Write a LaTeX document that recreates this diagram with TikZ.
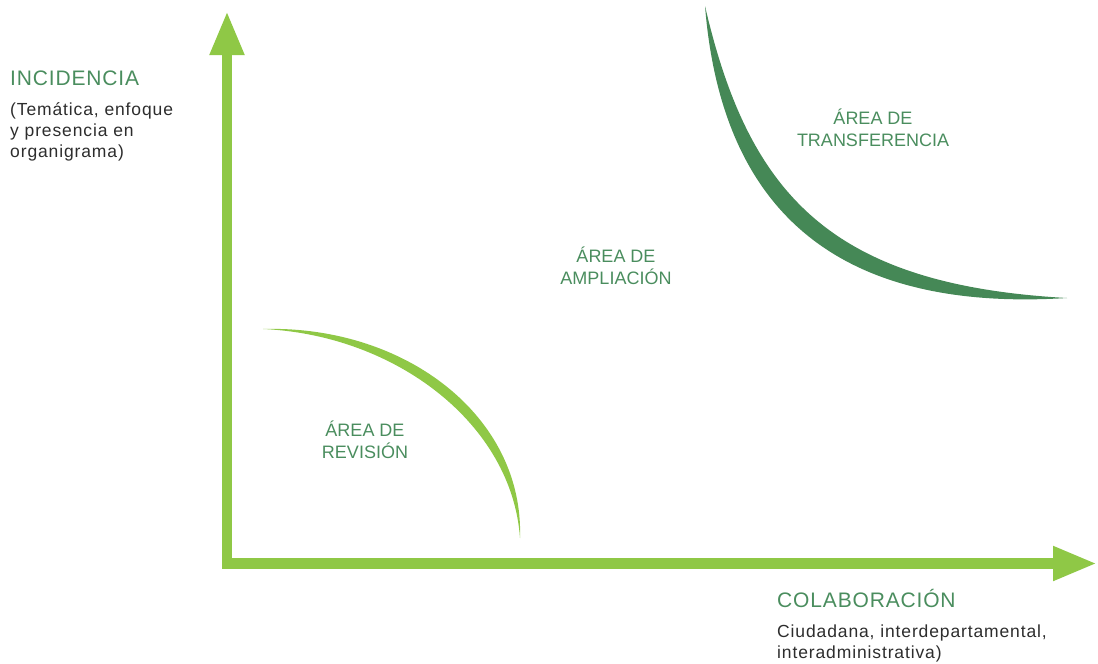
\documentclass[tikz,border=0pt]{standalone}
\usepackage{fontspec}
\setmainfont{Liberation Sans}
\usetikzlibrary{arrows.meta}
\definecolor{axisgreen}{RGB}{143,200,70}
\definecolor{deepgreen}{RGB}{69,136,86}
\definecolor{labelgreen}{RGB}{74,141,94}
\definecolor{notegray}{RGB}{45,45,45}
\begin{document}
\begin{tikzpicture}[x=1pt,y=-1pt]
        \tikzset{
        ax line/.style={draw=axisgreen,line width=10.5pt,line join=miter,{Triangle[length=44pt,width=32pt]}-{Triangle[length=44pt,width=32pt]}},
        ax title/.style={text=labelgreen,inner sep=0,anchor=base west,font=\fontsize{21}{25}\selectfont\addfontfeature{LetterSpace=4}},
        ax note/.style={text=notegray,inner sep=0,anchor=base west,align=left,font=\fontsize{17.5}{21}\selectfont\addfontfeature{LetterSpace=5}},
        area label/.style={text=labelgreen,inner sep=0,anchor=base,align=center,font=\fontsize{18}{22}\selectfont}
        }
        \useasboundingbox (0,0) rectangle (1098,664);

        \coordinate (ytip) at (227,11);
        \coordinate (origin) at (227,563.5);
        \coordinate (xtip) at (1097,563.5);
        \path[ax line] (ytip) -- (origin) -- (xtip);

        % curves
        \fill[axisgreen] (263,329) .. controls (405,325) and (524,416) .. (520,538)
            .. controls (512,424) and (396,335) .. cycle;
        \fill[deepgreen] (705,6) .. controls (721,204) and (830,313) .. (1067,298)
            .. controls (832,285) and (749,196) .. cycle;

        % base of a multi-line node is its last line
        \node[ax title] (incid) at (10,85) {INCIDENCIA};
        \node[ax note] (incidnote) at (10,157) {(Temática, enfoque\\y presencia en\\organigrama)};
        \node[ax title] (colab) at (777,607) {COLABORACIÓN};
        \node[ax note] (colabnote) at (777,658) {Ciudadana, interdepartamental,\\interadministrativa)};

        \node[area label] (revision) at (365,458) {ÁREA DE\\REVISIÓN};
        \node[area label] (ampliacion) at (616,284) {ÁREA DE\\AMPLIACIÓN};
        \node[area label] (transfer) at (873,146) {ÁREA DE\\TRANSFERENCIA};
    \end{tikzpicture}
\end{document}
